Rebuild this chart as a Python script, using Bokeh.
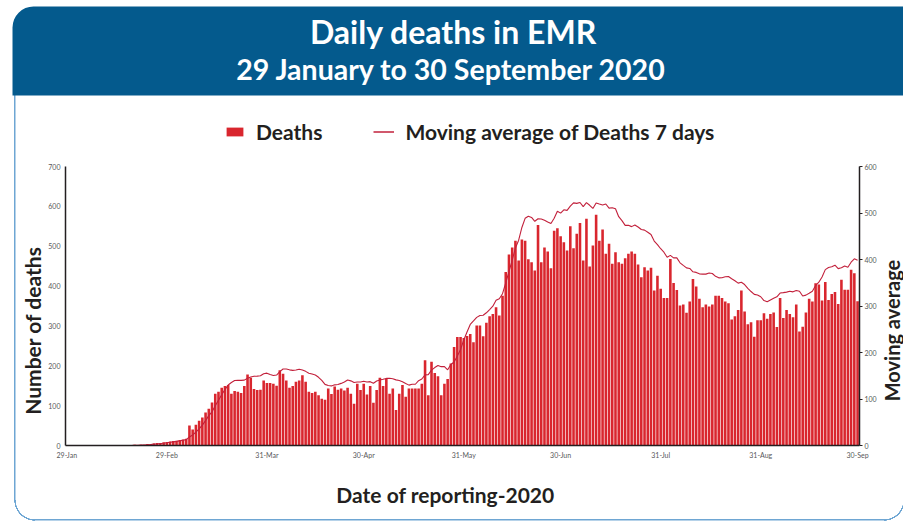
import math
import pandas as pd
from bokeh.plotting import figure
from bokeh.layouts import row
from bokeh.models import (Range1d, LinearAxis, FixedTicker, Label, BoxAnnotation,
                          Legend, LegendItem, ColumnDataSource)
from bokeh.embed import file_html
from bokeh.resources import INLINE

# ---------------- data ----------------
tick_days = [0, 31, 62, 92, 123, 153, 184, 215, 245]
tick_labels = ['29-Jan', '29-Feb', '31-Mar', '30-Apr', '31-May',
               '30-Jun', '31-Jul', '31-Aug', '30-Sep']

deaths_jan_feb = [0] * 21 + [2, 1, 2, 2, 4, 4, 5, 6, 6, 8, 9, 10, 11, 12, 14, 15, 17]
deaths_mar_may = [50, 40, 52, 62, 70, 83, 92, 108, 130, 135, 145, 149, 152, 130, 137, 135,
                  132, 149, 178, 170, 142, 139, 140, 163, 157, 157, 155, 150, 189, 180,
                  163, 145, 149, 160, 163, 176, 160, 135, 132, 135, 126, 117, 115, 143,
                  129, 148, 140, 143, 138, 145, 130, 105, 155, 139, 155, 128, 149, 107,
                  139, 170, 149, 168, 130, 143, 89, 130, 152, 122, 143, 143, 143, 143,
                  155, 214]
deaths_may_jul = [126, 210, 182, 174, 126, 155, 167, 206, 247, 272, 272, 270, 275, 280,
                  259, 301, 301, 274, 308, 324, 330, 347, 326, 376, 435, 479, 497, 514,
                  464, 517, 514, 467, 460, 439, 553, 460, 497, 487, 445, 539, 545, 525,
                  510, 489, 550, 495, 531, 558, 464, 569, 449, 502, 579, 514, 542, 481,
                  506, 456, 485, 460, 456, 470, 481, 487, 481, 454]
deaths_jul_sep = [422, 447, 439, 446, 389, 426, 393, 370, 370, 468, 408, 390, 351, 354,
                  333, 361, 418, 399, 368, 347, 354, 349, 354, 376, 376, 370, 361, 357,
                  316, 324, 340, 389, 336, 304, 309, 273, 314, 314, 332, 318, 330, 334,
                  297, 370, 320, 340, 330, 322, 354, 286, 298, 334, 368, 361, 407, 404,
                  364, 410, 365, 380, 385, 355, 416, 391, 391, 441, 432, 362]

deaths = deaths_jan_feb + deaths_mar_may + deaths_may_jul + deaths_jul_sep
days = list(range(len(deaths)))
moving_avg = pd.Series(deaths).rolling(7, min_periods=1).mean().tolist()

src = ColumnDataSource(dict(day=days, deaths=deaths, ma=moving_avg))

FONT = "Lato"
DARK = "#231f20"
BAR = "#d9262e"
LINE = "#c2203b"
HEAD = "#045a8d"
BORDER = "#6ea6d3"

W = 903
HH = 158          # header strip height
CH = 312          # chart row height
BH = 521 - HH - CH  # bottom strip height
LW = 45           # left label strip width
RW = 24           # right label strip width


def blank(width, height, **kw):
    f = figure(width=width, height=height, output_backend="svg",
               toolbar_location=None, title=None,
               x_axis_type=None, y_axis_type=None, **kw)
    f.outline_line_color = None
    f.xgrid.visible = False
    f.ygrid.visible = False
    f.background_fill_alpha = 0
    f.border_fill_alpha = 0
    return f


def bold_label(fig, text, x, y, size, color=DARK, angle=0, units="data"):
    fig.add_layout(Label(x=x, y=y, x_units=units, y_units=units, text=text,
                         text_font=FONT, text_font_size=size,
                         text_font_style="bold", text_color=color, angle=angle,
                         text_align="center", text_baseline="middle"))


# ---------------- header strip (titles + legend) ----------------
h = blank(W, HH, x_range=Range1d(0, W), y_range=Range1d(0, HH),
          min_border_left=0, min_border_right=0, min_border_top=0,
          min_border_bottom=0,
          styles={"background": f"linear-gradient({BORDER},{BORDER}) no-repeat 13.75px 80px / 1.5px 80px, white"})
h.extra_y_ranges = {"off": Range1d(-2000, -1000)}

h.add_layout(BoxAnnotation(left=12, right=W + 30, top=HH - 6, bottom=HH - 95,
                           fill_color=HEAD, fill_alpha=1, line_color=None,
                           border_radius=dict(top_left=21, top_right=0,
                                              bottom_right=0, bottom_left=0)))
bold_label(h, "Daily deaths in EMR", 453, HH - 30.5, "32px", "white")
bold_label(h, "29 January to 30 September 2020", 451, HH - 68, "28.5px", "white")

# legend proxies (hidden renderers, only their legend glyphs are shown)
leg_bar = h.vbar(x=days, top=deaths, width=0.8, fill_color=BAR, line_color=None,
                 y_range_name="off", visible=False)
leg_line = h.line(x=days, y=moving_avg, line_color=LINE, line_width=1.5,
                  y_range_name="off", visible=False)
legend = Legend(items=[LegendItem(label="Deaths", renderers=[leg_bar]),
                       LegendItem(label="Moving average of Deaths 7 days",
                                  renderers=[leg_line])],
                orientation="horizontal", location=(224, 14),
                label_text_font=FONT, label_text_font_size="21px",
                label_text_font_style="bold", label_text_color=DARK,
                glyph_width=21, glyph_height=11, label_height=24,
                label_standoff=11, spacing=51,
                padding=0, margin=0, border_line_color=None,
                background_fill_alpha=0, inactive_fill_alpha=0)
h.add_layout(legend)

# ---------------- chart row ----------------
p = figure(width=W - LW - RW, height=CH, output_backend="svg", toolbar_location=None,
           title=None, x_range=Range1d(-0.4, 245.6), y_range=Range1d(0, 700),
           min_border_left=17, min_border_right=16, min_border_top=8,
           min_border_bottom=25)
p.outline_line_color = None
p.xgrid.visible = False
p.ygrid.visible = False
p.background_fill_color = "white"
p.border_fill_alpha = 0
p.extra_y_ranges = {"ma": Range1d(0, 600)}

bars = p.vbar(x="day", top="deaths", width=0.8, source=src, fill_color=BAR,
              line_color=None)
line = p.line(x="day", y="ma", source=src, y_range_name="ma", line_color=LINE,
              line_width=1.1)

ax_b = p.xaxis[0]
ax_b.ticker = FixedTicker(ticks=tick_days)
ax_b.major_label_overrides = {d: l for d, l in zip(tick_days, tick_labels)}
ax_b.major_label_standoff = 5
ax_l = p.yaxis[0]
ax_l.ticker = FixedTicker(ticks=list(range(0, 701, 100)))
ax_l.major_label_standoff = 5

ax_r = LinearAxis(y_range_name="ma", ticker=FixedTicker(ticks=list(range(0, 601, 100))))
ax_r.major_tick_line_color = DARK
ax_r.major_tick_in = 0
ax_r.major_tick_out = 3
ax_r.major_label_standoff = 2
p.add_layout(ax_r, "right")

for ax in (ax_b, ax_l, ax_r):
    if ax is not ax_r:
        ax.major_tick_line_color = None
        ax.major_tick_in = 0
        ax.major_tick_out = 0
    ax.minor_tick_line_color = None
    ax.axis_line_color = DARK
    ax.axis_line_width = 1.5
    ax.major_label_text_font_size = "7px"
    ax.major_label_text_color = "#58595b"
    ax.major_label_text_font = FONT

# side strips with the two axis titles (frames aligned with the chart frame)
lft = blank(LW, CH, x_range=Range1d(0, 1), y_range=Range1d(0, 1),
            min_border_left=0, min_border_right=0, min_border_top=8,
            min_border_bottom=25)
bold_label(lft, "Number of deaths", 32, 115, "21px", angle=math.pi / 2, units="screen")
rgt = blank(RW, CH, x_range=Range1d(0, 1), y_range=Range1d(0, 1),
            min_border_left=0, min_border_right=0, min_border_top=8,
            min_border_bottom=25)
bold_label(rgt, "Moving average", 12, 115, "20px", angle=math.pi / 2, units="screen")

chart = row(lft, p, rgt, spacing=0, styles={
    "background": f"linear-gradient({BORDER},{BORDER}) no-repeat 13.75px 0px / 1.5px {CH}px, white"})

# ---------------- bottom strip (x-axis title + rounded panel corners) ----------------
b = blank(W, BH, x_range=Range1d(0, W), y_range=Range1d(0, BH),
          min_border_left=0, min_border_right=0, min_border_top=0,
          min_border_bottom=0,
          styles={"background": ", ".join([
              f"linear-gradient({BORDER},{BORDER}) no-repeat 13.75px 0px / 1.5px 30px",
              f"radial-gradient(circle at 100% 0, transparent 19.2px, {BORDER} 19.4px, {BORDER} 20.6px, transparent 20.8px) no-repeat 13.5px 30px / 21px 21px",
              f"linear-gradient({BORDER},{BORDER}) no-repeat 34.5px 49.25px / 850px 1.5px",
              f"radial-gradient(circle at 0 0, transparent 19.2px, {BORDER} 19.4px, {BORDER} 20.6px, transparent 20.8px) no-repeat 884px 30px / 21px 21px",
              "white"])})
bold_label(b, "Date of reporting-2020", 445, BH - 24, "21px")

open("out.html", "w").write(file_html([h, chart, b], INLINE))
